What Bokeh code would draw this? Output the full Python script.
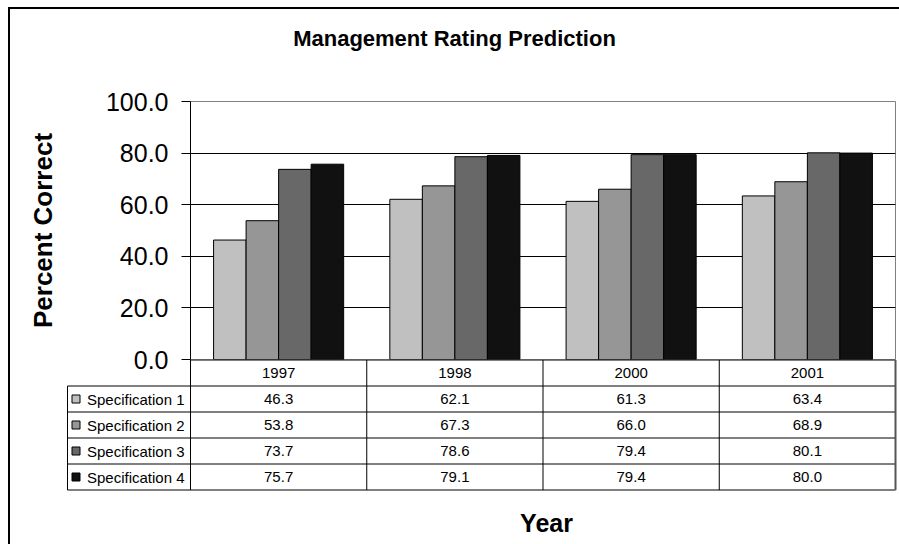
from bokeh.plotting import figure
from bokeh.models import (FactorRange, Range1d, FixedTicker, NumeralTickFormatter,
                          ColumnDataSource, Div)
from bokeh.transform import dodge
from bokeh.layouts import column
from bokeh.embed import file_html
from bokeh.resources import INLINE
from bokeh.core.properties import value

# ---------------- data ----------------
years = ["1997", "1998", "2000", "2001"]
series = ["Specification 1", "Specification 2", "Specification 3", "Specification 4"]
spec1 = [46.3, 62.1, 61.3, 63.4]
spec2 = [53.8, 67.3, 66.0, 68.9]
spec3 = [73.7, 78.6, 79.4, 80.1]
spec4 = [75.7, 79.1, 79.4, 80.0]
colors = ["#c0c0c0", "#969696", "#686868", "#111111"]
y_ticks = [0, 20, 40, 60, 80, 100]
title_text = "Management Rating Prediction"
y_label = "Percent Correct"
x_label = "Year"

values = [spec1, spec2, spec3, spec4]

# ---------------- layout constants ----------------
FONT = "Liberation Sans"
OX, OY = 10, 9            # content origin on the page (after margin + border)
W = 899 - OX
TITLE_H = 51
FRAME_L = 180
FRAME_R = 4
FRAME_T = 41
FRAME_H = 258
OVERLAP = 14              # room below the frame for the "0.0" tick label
HA = FRAME_T + FRAME_H + OVERLAP
HB = 544 - OY - TITLE_H - (FRAME_T + FRAME_H)
n_y = len(years)
n_s = len(series)
COL_PX = (W - FRAME_L - FRAME_R) / n_y
ROW_PX = 26.0
LABEL_W = 123 / COL_PX
BAR_W = 0.1845

# ---------------- title ----------------
title_div = Div(text=f'<div style="padding-top:17px;text-align:center;width:{W}px;'
                     f'font-family:\'{FONT}\';font-size:22px;font-weight:bold;'
                     f'color:black;line-height:1.15;white-space:nowrap;">{title_text}</div>',
                width=W, height=TITLE_H, margin=0)

# ---------------- chart ----------------
pa = figure(width=W, height=HA,
            x_range=FactorRange(factors=years, range_padding=0),
            y_range=Range1d(0, 100),
            output_backend="svg", toolbar_location=None,
            x_axis_location=None,
            min_border_left=FRAME_L, min_border_right=FRAME_R,
            min_border_top=FRAME_T, min_border_bottom=OVERLAP, margin=0)
pa.frame_align = False
pa.background_fill_color = "white"
pa.border_fill_color = "white"
pa.outline_line_color = "#808080"
pa.outline_line_width = 1

ax = pa.yaxis[0]
ax.ticker = FixedTicker(ticks=y_ticks)
ax.formatter = NumeralTickFormatter(format="0.0")
ax.major_label_text_font = FONT
ax.major_label_text_font_size = "25px"
ax.major_label_text_color = "black"
ax.major_tick_out = 9
ax.major_tick_in = 0
ax.minor_tick_out = 0
ax.minor_tick_in = 0
ax.major_label_standoff = 13
ax.axis_line_color = "black"
ax.major_tick_line_color = "black"
ax.axis_label = y_label
ax.axis_label_text_font = FONT
ax.axis_label_text_font_size = "26px"
ax.axis_label_text_font_style = "bold"
ax.axis_label_text_color = "black"
ax.axis_label_standoff = 45

pa.xgrid.visible = False
pa.ygrid.ticker = FixedTicker(ticks=y_ticks[1:-1])
pa.ygrid.grid_line_color = "black"
pa.ygrid.grid_line_width = 1

src = ColumnDataSource(dict(year=years, s1=spec1, s2=spec2, s3=spec3, s4=spec4))
for i, (col, color) in enumerate(zip(["s1", "s2", "s3", "s4"], colors)):
    pa.vbar(x=dodge("year", (i - (n_s - 1) / 2) * BAR_W, range=pa.x_range),
            top=col, width=BAR_W, bottom=0, source=src,
            fill_color=color, line_color="black", line_width=1)

# ---------------- data table ----------------
x0 = -FRAME_L / COL_PX
pb = figure(width=W, height=HB,
            x_range=Range1d(x0, x0 + W / COL_PX),
            y_range=Range1d(-(HB - 0.5) / ROW_PX, 0.5 / ROW_PX),
            output_backend="svg", toolbar_location=None,
            x_axis_location=None, y_axis_location=None,
            min_border=0, outline_line_color=None, margin=(-OVERLAP, 0, 0, 0))
pb.frame_align = False
pb.grid.visible = False
pb.background_fill_color = None
pb.border_fill_color = None

sx0, sy0, sx1, sy1 = [], [], [], []
def seg(a, b, c, d):
    sx0.append(a); sy0.append(b); sx1.append(c); sy1.append(d)

seg(0, 0, n_y, 0)
for r in range(1, n_s + 2):
    seg(-LABEL_W, -r, n_y, -r)
for c in range(0, n_y):
    seg(c, 0, c, -(n_s + 1))
seg(-LABEL_W, -1, -LABEL_W, -(n_s + 1))
pb.segment(x0=sx0, y0=sy0, x1=sx1, y1=sy1, line_color="black", line_width=1)
pb.segment(x0=[n_y], y0=[0], x1=[n_y], y1=[-(n_s + 1)], line_color="#555555", line_width=2)

pb.text(x=[i + 0.5 for i in range(n_y)], y=[-0.5] * n_y, text=years,
        text_font=value(FONT), text_font_size="15px", text_color="black",
        text_align="center", text_baseline="middle")
for r, vals in enumerate(values):
    pb.text(x=[i + 0.5 for i in range(n_y)], y=[-(r + 1.5)] * n_y,
            text=[f"{v:.1f}" for v in vals],
            text_font=value(FONT), text_font_size="15px", text_color="black",
            text_align="center", text_baseline="middle")
pb.scatter(x=[-LABEL_W + 8.5 / COL_PX] * n_s, y=[-(r + 1.5) for r in range(n_s)],
           marker="square", size=8, fill_color=colors, line_color="black", line_width=1)
pb.text(x=[-LABEL_W + 19.5 / COL_PX] * n_s, y=[-(r + 1.5) for r in range(n_s)],
        text=series, text_font=value(FONT), text_font_size="15px", text_color="black",
        text_align="left", text_baseline="middle")
pb.text(x=[n_y / 2 + 0.02], y=[-(522 - 359) / ROW_PX], text=[x_label],
        text_font=value(FONT), text_font_size="25px", text_font_style="bold",
        text_color="black", text_align="center", text_baseline="alphabetic")

layout = column(title_div, pa, pb, spacing=0, margin=(7, 0, 0, 8),
                styles={"border-top": "2px solid black", "border-left": "2px solid black"})
open("out.html", "w").write(file_html(layout, INLINE))
